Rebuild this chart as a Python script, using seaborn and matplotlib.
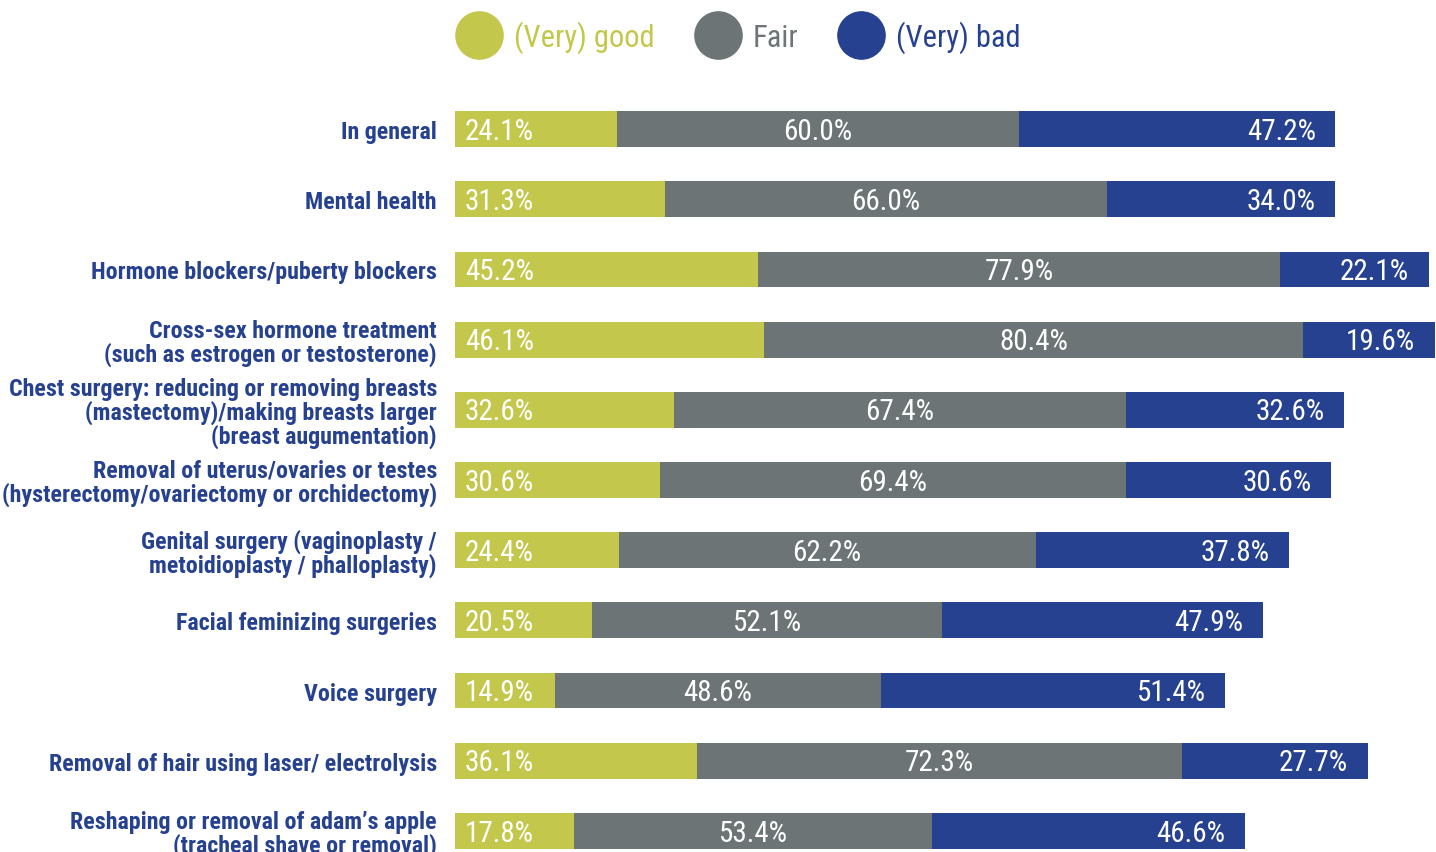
import matplotlib
matplotlib.use("Agg")
import matplotlib.pyplot as plt
from matplotlib.lines import Line2D
import seaborn as sns
import pandas as pd
import numpy as np

categories = [
    "In general",
    "Mental health",
    "Hormone blockers/puberty blockers",
    "Cross-sex hormone treatment\n(such as estrogen or testosterone)",
    "Chest surgery: reducing or removing breasts\n(mastectomy)/making breasts larger\n(breast augumentation)",
    "Removal of uterus/ovaries or testes\n(hysterectomy/ovariectomy or orchidectomy)",
    "Genital surgery (vaginoplasty /\nmetoidioplasty / phalloplasty)",
    "Facial feminizing surgeries",
    "Voice surgery",
    "Removal of hair using laser/ electrolysis",
    "Reshaping or removal of adam\u2019s apple\n(tracheal shave or removal)",
]
good = [24.1, 31.3, 45.2, 46.1, 32.6, 30.6, 24.4, 20.5, 14.9, 36.1, 17.8]
fair = [60.0, 66.0, 77.9, 80.4, 67.4, 69.4, 62.2, 52.1, 48.6, 72.3, 53.4]
bad = [47.2, 34.0, 22.1, 19.6, 32.6, 30.6, 37.8, 47.9, 51.4, 27.7, 46.6]
series_names = ["(Very) good", "Fair", "(Very) bad"]

GREEN = "#C3C74C"
GREY = "#6C7476"
NAVY = "#264190"

sns.set_theme(style="white")
plt.rcParams["font.family"] = ["Roboto Condensed", "DejaVu Sans"]

df = pd.DataFrame({"category": categories, "good": good, "fair": fair, "bad": bad})
df["cum_fair"] = df["good"] + df["fair"]
df["cum_bad"] = df["cum_fair"] + df["bad"]

fig = plt.figure(figsize=(14.36, 8.53), dpi=100)
ax = fig.add_axes([455 / 1436, 0.0, 1 - 455 / 1436, (853 - 95) / 853])

bw = 0.51
sns.barplot(data=df, y="category", x="cum_bad", orient="h", color=NAVY, width=bw,
            saturation=1, ax=ax, linewidth=0)
sns.barplot(data=df, y="category", x="cum_fair", orient="h", color=GREY, width=bw,
            saturation=1, ax=ax, linewidth=0)
sns.barplot(data=df, y="category", x="good", orient="h", color=GREEN, width=bw,
            saturation=1, ax=ax, linewidth=0)

ax.set_xlim(0, 146.3)
ax.set_ylim(10.3, -0.5)
ax.set_xlabel("")
ax.set_ylabel("")
ax.set_xticks([])
for s in ax.spines.values():
    s.set_visible(False)
ax.tick_params(axis="y", length=0, pad=13)
for lab in ax.get_yticklabels():
    lab.set_fontweight("bold")
    lab.set_color(NAVY)
    lab.set_fontsize(17.3)
    lab.set_linespacing(1.0)
    lab.set_ha("right")

vfont = dict(color="white", fontsize=21, fontweight="normal", va="center")
for i in range(len(categories)):
    g, f, b = good[i], fair[i], bad[i]
    ax.annotate(f"{g:.1f}%", (0, i), xytext=(7, -1.2), textcoords="offset points",
                ha="left", **vfont)
    ax.annotate(f"{f:.1f}%", (g + f / 2, i), xytext=(0, -1.2), textcoords="offset points",
                ha="center", **vfont)
    ax.annotate(f"{b:.1f}%", (g + f + b, i), xytext=(-14, -1.2), textcoords="offset points",
                ha="right", **vfont)

handles = [Line2D([0], [0], marker="o", linestyle="none", markersize=34,
                  markerfacecolor=c, markeredgecolor=c) for c in (GREEN, GREY, NAVY)]
leg = fig.legend(handles, series_names, loc="center", bbox_to_anchor=(738 / 1436, 1 - 38 / 853),
                 ncol=3, frameon=False, handlelength=1.55, handletextpad=0.35,
                 columnspacing=1.3, labelcolor=[GREEN, GREY, NAVY],
                 prop=dict(family=["Roboto Condensed", "DejaVu Sans"], size=22, weight="normal"))

fig.savefig("out.png", dpi=100)
